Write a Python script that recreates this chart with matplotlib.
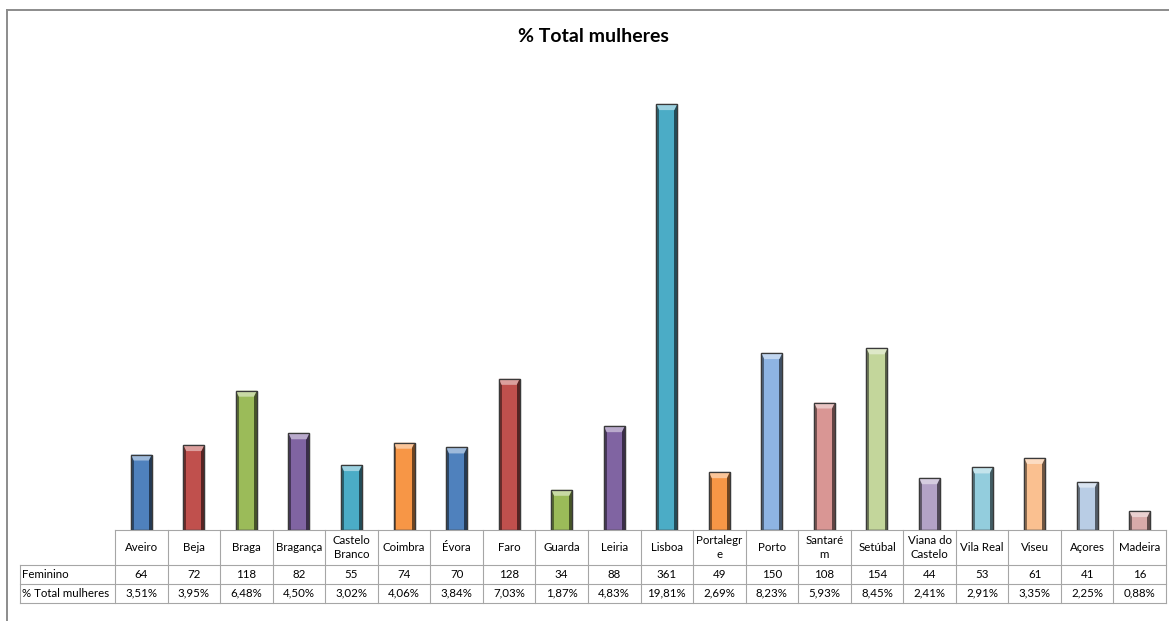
import matplotlib
matplotlib.use("Agg")
import matplotlib.pyplot as plt
from matplotlib.patches import Rectangle, Polygon
from matplotlib.lines import Line2D
import matplotlib.transforms as mtransforms
import matplotlib.colors as mcolors
import numpy as np

plt.rcParams['font.family'] = ['Lato', 'DejaVu Sans']

# ---- data ----
categories = ["Aveiro", "Beja", "Braga", "Bragança", "Castelo\nBranco", "Coimbra", "Évora",
              "Faro", "Guarda", "Leiria", "Lisboa", "Portalegr\ne", "Porto", "Santaré\nm",
              "Setúbal", "Viana do\nCastelo", "Vila Real", "Viseu", "Açores", "Madeira"]
feminino = [64, 72, 118, 82, 55, 74, 70, 128, 34, 88, 361, 49, 150, 108, 154, 44, 53, 61, 41, 16]
pct_total = [3.51, 3.95, 6.48, 4.50, 3.02, 4.06, 3.84, 7.03, 1.87, 4.83, 19.81, 2.69, 8.23,
             5.93, 8.45, 2.41, 2.91, 3.35, 2.25, 0.88]
row_labels = ["Feminino", "% Total mulheres"]
title = "% Total mulheres"
colors = ["#4F81BD", "#C0504D", "#9BBB59", "#8064A2", "#4BACC6", "#F79646",
          "#4F81BD", "#C0504D", "#9BBB59", "#8064A2", "#4BACC6", "#F79646",
          "#8EB4E3", "#D99694", "#C3D69B", "#B3A2C7", "#93CDDD", "#FAC090",
          "#B9CDE5", "#D9AAA9"]

W, H = 1169, 621
fig = plt.figure(figsize=(W / 100, H / 100), dpi=100)
fig.patch.set_facecolor("white")

left_px, right_px, base_px, top_px = 115, 1166, 530, 100
ax = fig.add_axes([left_px / W, 1 - base_px / H, (right_px - left_px) / W, (base_px - top_px) / H])
ax.set_xlim(-0.5, len(categories) - 0.5)
ax.set_ylim(0, 20)
ax.axis("off")

x = np.arange(len(categories))
vals = np.array(pct_total)
bw = 0.40


def shade(c, f):
    r, g, b = mcolors.to_rgb(c)
    if f < 1:
        return (r * f, g * f, b * f)
    t = f - 1
    return (r + (1 - r) * t, g + (1 - g) * t, b + (1 - b) * t)


ax.bar(x, vals, width=bw, color=colors, edgecolor="#3a3a3a", linewidth=0.9, zorder=2)
sw = bw * 0.14
ax.bar(x - bw / 2 + sw / 2, vals, width=sw, color=[shade(c, 0.55) for c in colors],
       linewidth=0, zorder=3)
ax.bar(x + bw / 2 - sw / 2, vals, width=sw, color=[shade(c, 0.45) for c in colors],
       linewidth=0, zorder=3)
cap = 20 * 6 / (base_px - top_px)
for xi, v, c in zip(x, vals, colors):
    poly = Polygon([(xi - bw / 2, v), (xi + bw / 2, v), (xi + bw / 2 - sw, v - cap),
                    (xi - bw / 2 + sw, v - cap)], closed=True,
                   facecolor=shade(c, 1.45), edgecolor="none", zorder=4)
    ax.add_patch(poly)
    ax.add_patch(Rectangle((xi - bw / 2, 0), bw, v, facecolor="none",
                           edgecolor="#3a3a3a", linewidth=0.9, zorder=5))

# ---- data table ----
trans = mtransforms.blended_transform_factory(ax.transData, ax.transAxes)
ax_h = base_px - top_px
col_w_px = (right_px - left_px) / len(categories)
label_left = -0.5 - (left_px - 20) / col_w_px
row_edges_px = [0, 35, 53.5, 73]
row_y = [-r / ax_h for r in row_edges_px]
grid = "#a6a6a6"
lw = 0.8
fs = 8.3

def hline(x0, x1, y):
    ax.add_line(Line2D([x0, x1], [y, y], transform=trans, color=grid, lw=lw, clip_on=False))

def vline(xv, y0, y1):
    ax.add_line(Line2D([xv, xv], [y0, y1], transform=trans, color=grid, lw=lw, clip_on=False))

xr = len(categories) - 0.5
hline(-0.5, xr, row_y[0])
for y in row_y[1:]:
    hline(label_left, xr, y)
vline(label_left, row_y[1], row_y[3])
for i in range(len(categories) + 1):
    vline(i - 0.5, row_y[0], row_y[3])

for i, cat in enumerate(categories):
    ax.text(i, (row_y[0] + row_y[1]) / 2, cat, transform=trans, ha="center", va="center",
            fontsize=fs, linespacing=1.25, clip_on=False)
    ax.text(i, (row_y[1] + row_y[2]) / 2, f"{feminino[i]}", transform=trans, ha="center",
            va="center", fontsize=fs, clip_on=False)
    ax.text(i, (row_y[2] + row_y[3]) / 2, f"{pct_total[i]:.2f}%".replace(".", ","),
            transform=trans, ha="center", va="center", fontsize=fs, clip_on=False)
for r, lab in enumerate(row_labels):
    ax.text(label_left + 0.04, (row_y[r + 1] + row_y[r + 2]) / 2, lab, transform=trans,
            ha="left", va="center", fontsize=fs, clip_on=False)

# ---- title and frame ----
fig.text(593 / W, 1 - 37 / H, title, ha="center", va="center", fontsize=14, fontweight="bold")
fig.add_artist(Line2D([7 / W, 1], [1 - 10 / H, 1 - 10 / H], transform=fig.transFigure,
                      color="#8c8c8c", lw=1.4))
fig.add_artist(Line2D([7 / W, 7 / W], [0, 1 - 10 / H], transform=fig.transFigure,
                      color="#8c8c8c", lw=1.4))

fig.savefig("out.png", dpi=100, facecolor="white")
